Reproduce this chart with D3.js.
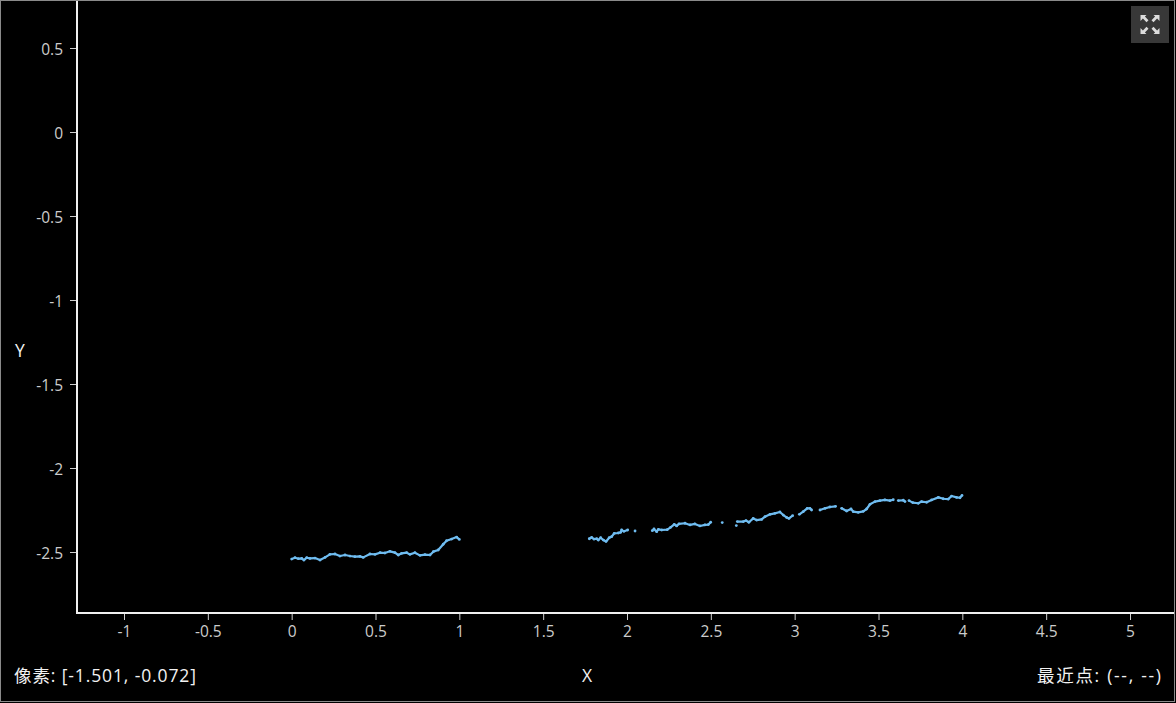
<!DOCTYPE html>
<html>
<head>
<meta charset="utf-8">
<script src="https://cdnjs.cloudflare.com/ajax/libs/d3/7.8.5/d3.min.js"></script>
<style>
html,body{margin:0;padding:0;background:#000;overflow:hidden}
svg{display:block}
text{font-family:"Open Sans","Noto Sans CJK SC",sans-serif}
</style>
</head>
<body>
<svg id="chart" width="1176" height="703"></svg>
<script>
const xTicks = [-1,-0.5,0,0.5,1,1.5,2,2.5,3,3.5,4,4.5,5];
const yTicks = [0.5,0,-0.5,-1,-1.5,-2,-2.5];
const pixelReadout = "像素: [-1.501, -0.072]";
const nearestReadout = "最近点: (--, --)";
const xTitle = "X";
const yTitle = "Y";
// null marks a gap in the trace
const xValues = [
0.00,0.02,0.04,0.06,0.073,0.09,0.109,0.139,0.169,0.199,0.228,0.258,0.288,0.318,0.348,0.377,0.407,0.427,0.467,0.497,0.527,0.556,0.586,0.616,0.636,0.656,0.686,0.705,0.735,0.765,0.795,0.825,0.845,0.874,0.904,0.924,0.954,0.984,1.0,null,
1.775,1.789,1.803,1.819,1.829,1.843,1.859,1.875,1.894,1.908,1.924,1.948,1.962,1.968,1.982,2.004,null,
2.048,null,
2.151,2.161,2.177,2.187,2.207,2.240,2.260,2.282,2.296,2.310,2.346,2.376,2.405,2.435,2.465,2.485,2.499,null,
2.568,null,
2.652,null,
2.658,2.694,2.710,2.727,2.753,2.773,2.803,2.823,2.853,2.882,2.912,2.932,2.952,2.966,2.988,null,
3.028,3.051,3.075,3.091,3.101,null,
3.151,3.181,3.210,3.244,null,
3.280,3.310,3.336,3.350,3.379,3.409,3.429,3.449,3.479,3.509,3.538,3.568,3.588,null,
3.618,3.648,3.658,null,
3.682,3.704,3.737,3.757,3.787,3.817,3.857,3.886,3.916,3.936,3.966,3.986,3.998
];
const yValues = [
-2.542,-2.534,-2.540,-2.538,-2.548,-2.534,-2.538,-2.536,-2.548,-2.532,-2.514,-2.512,-2.524,-2.518,-2.524,-2.528,-2.526,-2.532,-2.512,-2.514,-2.504,-2.506,-2.496,-2.504,-2.518,-2.508,-2.504,-2.514,-2.504,-2.520,-2.516,-2.518,-2.498,-2.488,-2.454,-2.433,-2.423,-2.411,-2.425,null,
-2.421,-2.413,-2.423,-2.421,-2.429,-2.415,-2.429,-2.437,-2.415,-2.409,-2.389,-2.387,-2.383,-2.369,-2.377,-2.369,null,
-2.375,null,
-2.373,-2.363,-2.379,-2.365,-2.369,-2.367,-2.353,-2.335,-2.345,-2.333,-2.329,-2.339,-2.333,-2.345,-2.339,-2.337,-2.323,null,
-2.325,null,
-2.343,null,
-2.319,-2.319,-2.313,-2.323,-2.300,-2.310,-2.306,-2.290,-2.276,-2.270,-2.262,-2.280,-2.294,-2.300,-2.284,null,
-2.276,-2.260,-2.240,-2.240,-2.250,null,
-2.250,-2.240,-2.232,-2.228,null,
-2.240,-2.256,-2.244,-2.260,-2.264,-2.258,-2.244,-2.216,-2.200,-2.194,-2.190,-2.194,-2.189,null,
-2.194,-2.192,-2.200,null,
-2.194,-2.206,-2.210,-2.200,-2.204,-2.190,-2.175,-2.183,-2.185,-2.167,-2.175,-2.177,-2.163
];

const svg = d3.select("#chart");
const W = 1176, H = 703;
const x = d3.scaleLinear().domain([-1,5]).range([124,1130]);
const y = d3.scaleLinear().domain([0.5,-2.5]).range([48,552]);

svg.append("rect").attr("x",0.5).attr("y",0.5).attr("width",W-2).attr("height",H-2)
  .attr("fill","#000").attr("stroke","#8a8a8a");

const fmt = d => String(d);

const gx = svg.append("g").attr("transform","translate(0,613)")
  .call(d3.axisBottom(x).tickValues(xTicks).tickFormat(fmt).tickSize(7).tickPadding(6));
const gy = svg.append("g").attr("transform","translate(77,0)")
  .call(d3.axisLeft(y).tickValues(yTicks).tickFormat(fmt).tickSize(7).tickPadding(7));
[gx,gy].forEach(g=>{
  g.select(".domain").remove();
  g.selectAll(".tick line").attr("stroke","#cfcfcf").attr("stroke-width",1);
  g.selectAll(".tick text").attr("fill","#cccccc").style("font-size","15.5px");
});
gy.selectAll(".tick text").attr("dy","0.42em");
svg.append("line").attr("x1",77).attr("x2",77).attr("y1",1).attr("y2",614).attr("stroke","#f0f0f0").attr("stroke-width",2);
svg.append("line").attr("x1",76).attr("x2",1174).attr("y1",613).attr("y2",613).attr("stroke","#f0f0f0").attr("stroke-width",2);

const pts = xValues.map((v,i)=>({x:v,y:yValues[i]}));
const line = d3.line().defined(d=>d.x!==null).x(d=>x(d.x)).y(d=>y(d.y));
svg.append("path").datum(pts).attr("d",line).attr("fill","none")
  .attr("stroke","#6fbcf0").attr("stroke-width",2.2).attr("stroke-linejoin","round");
svg.append("g").selectAll("circle").data(pts.filter(d=>d.x!==null)).join("circle")
  .attr("cx",d=>x(d.x)).attr("cy",d=>y(d.y)).attr("r",1.4).attr("fill","#6fbcf0");

const label = (t,px,py,anchor,len)=>{
  const s = svg.append("text").attr("x",px).attr("y",py)
    .attr("text-anchor",anchor).attr("fill","#f2f2f2").style("font-size","17.5px").text(t);
  if(len) s.attr("textLength",len).attr("lengthAdjust","spacing");
};
label(pixelReadout,14,682,"start",182);
label(nearestReadout,1161,682,"end",124);
label(xTitle,587,682,"middle");
label(yTitle,20,357,"middle");

// full-screen button
const b = svg.append("g").attr("transform","translate(1131,6)");
b.append("rect").attr("width",38).attr("height",37).attr("fill","#383838");
const icon = [[1,1],[-1,1],[1,-1],[-1,-1]];
icon.forEach(([sx,sy])=>{
  const g = b.append("g").attr("transform",`translate(19,18.5) scale(${sx},${sy}) translate(-9.5,-9.5)`);
  g.append("path").attr("d","M0 0H6L4.4 1.6L8 5.2L6 7.2L2.4 3.6L0 6Z").attr("fill","#dcdcdc");
});
</script>
</body>
</html>
